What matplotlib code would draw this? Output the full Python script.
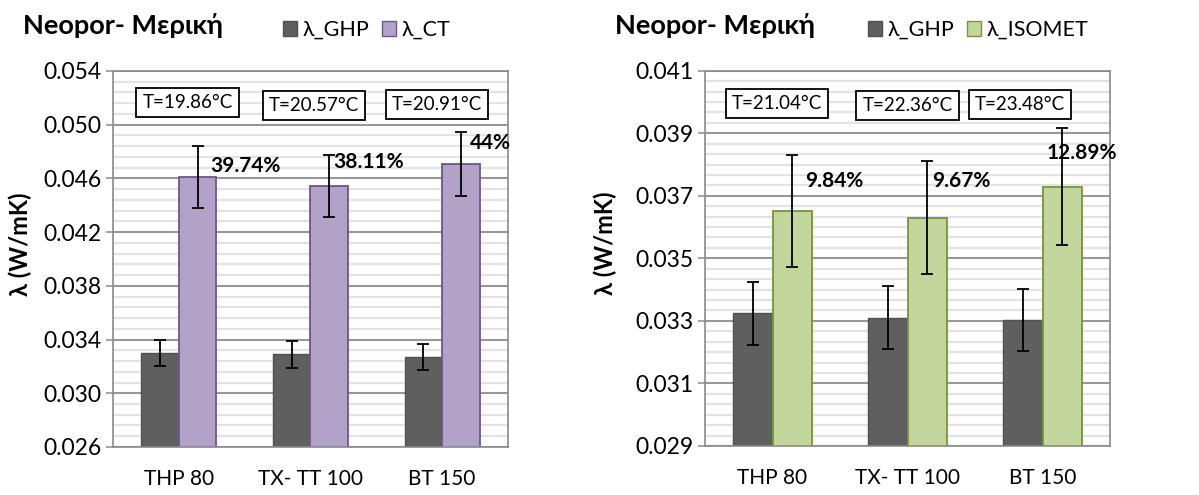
import numpy as np
import matplotlib
matplotlib.use("Agg")
import matplotlib.pyplot as plt
from matplotlib.patches import Patch

plt.rcParams["font.family"] = ["Lato", "Open Sans", "DejaVu Sans"]

categories = ["THP 80", "TX- TT 100", "BT 150"]

# Left panel: guarded hot plate vs. CT
ghp_left = [0.0330, 0.0329, 0.0327]
ghp_left_err = [0.0010, 0.0010, 0.00097]
ct = [0.0461, 0.04542, 0.04709]
ct_err = [0.0023, 0.0023, 0.0024]
ct_pct = ["39.74%", "38.11%", "44%"]
temps_left = ["T=19.86°C", "T=20.57°C", "T=20.91°C"]
left_ticks = [0.026, 0.030, 0.034, 0.038, 0.042, 0.046, 0.050, 0.054]

# Right panel: guarded hot plate vs. ISOMET
ghp_right = [0.03324, 0.0331, 0.03303]
ghp_right_err = [0.0010, 0.0010, 0.0010]
isomet = [0.03651, 0.0363, 0.03729]
isomet_err = [0.0018, 0.0018, 0.00187]
isomet_pct = ["9.84%", "9.67%", "12.89%"]
temps_right = ["T=21.04°C", "T=22.36°C", "T=23.48°C"]
right_ticks = [0.029, 0.031, 0.033, 0.035, 0.037, 0.039, 0.041]

title = "Neopor- Μερική"
ylabel = "λ (W/mK)"

GHP_FACE = "#5f5f5f"
GHP_EDGE = "#505050"
GRID = "#8a8a8a"
STRIPE = "#e3e3e3"

fig = plt.figure(figsize=(11.99, 4.95), dpi=100)


def panel(rect, ghp, ghp_err, other, other_err, other_name, face, edge,
          pct, pct_pos, temps, temp_pos, ticks, n_sub, width, title_x,
          ylabel_x, legend_anchor):
    ax = fig.add_axes(rect)
    x = np.arange(len(categories))
    ax.set_xlim(-0.5, len(categories) - 0.5)
    ax.set_ylim(ticks[0], ticks[-1])

    # narrow horizontal pattern fill of the plot area
    step = (ticks[1] - ticks[0]) / n_sub
    for y in np.arange(ticks[0], ticks[-1] + step / 2, step):
        ax.axhline(y, color=STRIPE, lw=1.6, zorder=0)
    for y in ticks:
        ax.axhline(y, color=GRID, lw=1.2, zorder=1)

    ekw = dict(ecolor="black", elinewidth=1.3, capsize=4.5, capthick=1.3)
    ax.bar(x - width / 2, ghp, width, color=GHP_FACE, edgecolor=GHP_EDGE,
           lw=1.0, zorder=2, label="λ_GHP")
    ax.bar(x + width / 2, other, width, color=face, edgecolor=edge,
           lw=1.3, zorder=2, label=other_name)
    ax.errorbar(x - width / 2, ghp, yerr=ghp_err, fmt="none", zorder=3, **ekw)
    ax.errorbar(x + width / 2, other, yerr=other_err, fmt="none", zorder=3, **ekw)

    for txt, (px, py) in zip(pct, pct_pos):
        ax.text(px, py, txt, fontsize=15, fontweight="bold", ha="left",
                va="center", zorder=4, clip_on=False)

    for txt, (px, py) in zip(temps, temp_pos):
        ax.text(px, py, txt, transform=ax.transAxes, fontsize=13.5,
                ha="center", va="center", zorder=5,
                bbox=dict(boxstyle="square,pad=0.32", fc="white",
                          ec="black", lw=1.3))

    ax.set_xticks(x)
    ax.set_xticklabels(categories, fontsize=15)
    ax.set_yticks(ticks)
    ax.set_yticklabels([f"{t:.3f}" for t in ticks], fontsize=16.5)
    ax.tick_params(axis="x", length=0, pad=16)
    ax.tick_params(axis="y", length=5, width=1.1, color=GRID, pad=3)
    for sp in ax.spines.values():
        sp.set_color(GRID)
        sp.set_linewidth(1.2)

    ax.set_ylabel(ylabel, fontsize=17, fontweight="bold")
    ax.yaxis.set_label_coords(ylabel_x, 0.54)

    fig.text(title_x, 0.948, title, fontsize=19.5, fontweight="bold",
             ha="left", va="center")

    handles = [Patch(facecolor=GHP_FACE, edgecolor=GHP_EDGE, label="λ_GHP"),
               Patch(facecolor=face, edgecolor=edge, label=other_name)]
    ax.legend(handles=handles, ncol=2, frameon=False, fontsize=15.5,
              loc="center left", bbox_to_anchor=legend_anchor,
              bbox_transform=fig.transFigure, handlelength=0.65,
              handleheight=0.65, handletextpad=0.25, columnspacing=0.6,
              borderpad=0, borderaxespad=0)
    return ax


panel([0.0942, 0.0970, 0.3294, 0.7596], ghp_left, ghp_left_err, ct, ct_err,
      "λ_CT", "#b3a2c7", "#6a5590",
      ct_pct, [(0.237, 0.0469), (1.17, 0.04723), (2.21, 0.04864)],
      temps_left, [(0.189, 0.915), (0.509, 0.907), (0.820, 0.911)],
      left_ticks, 5, 0.285, 23 / 1199, -0.205, (283 / 1199, 1 - 30 / 495))

panel([0.5880, 0.0990, 0.3378, 0.7582], ghp_right, ghp_right_err, isomet,
      isomet_err, "λ_ISOMET", "#c3d69b", "#77933c",
      isomet_pct, [(0.24, 0.03747), (1.18, 0.03747), (2.03, 0.03836)],
      temps_right, [(0.177, 0.912), (0.500, 0.907), (0.778, 0.909)],
      right_ticks, 6, 0.29, 615 / 1199, -0.217, (868 / 1199, 1 - 30 / 495))

fig.savefig("out.png", dpi=100, facecolor="white")
